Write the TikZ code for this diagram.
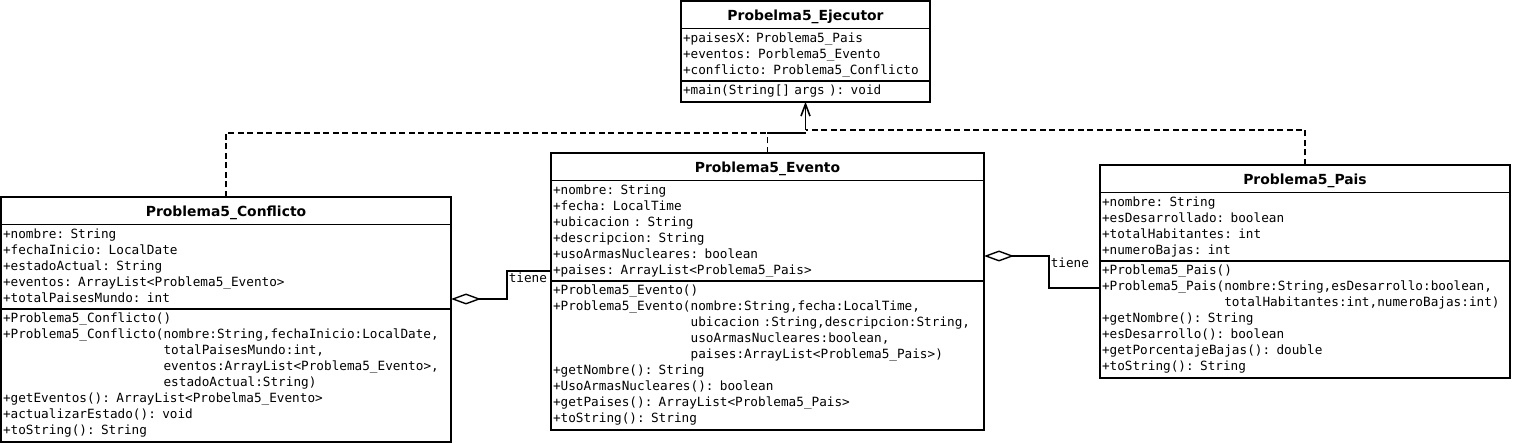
\documentclass[tikz,border=0pt]{standalone}
\usepackage{fontspec}
\setmonofont{DejaVu Sans Mono}
\newfontfamily\titlefont{DejaVu Sans}
\usetikzlibrary{shapes.multipart,arrows.meta}

\newcommand{\membfont}{\ttfamily\fontsize{12.7}{16}\selectfont}
\newcommand{\classtitle}[1]{\hbox to\hsize{\hss\titlefont\bfseries\fontsize{13.9}{16}\selectfont\rule[-6pt]{0pt}{23pt}#1\hss}}

\begin{document}
\begin{tikzpicture}[x=1pt,y=-1pt,
  umlclass/.style={draw,line width=1.6pt,rectangle split,rectangle split parts=3,
    inner xsep=2pt,inner ysep=1.5pt,outer sep=0pt,anchor=north west,font=\membfont,align=left},
  dep/.style={line width=1.6pt,dash pattern=on 6pt off 3.5pt},
  aggr/.style={line width=1.6pt,{Diamond[open,length=30pt,width=11pt,line width=1.4pt]}-},
  rel/.style={font=\membfont,inner sep=1pt}]
\useasboundingbox (0,0) rectangle (1513,443);

\node[umlclass,text width=245pt] (ejecutor) at (681,1) {\classtitle{Probelma5\_Ejecutor}
  \nodepart{second}\strut+paisesX: Problema5\_Pais\\
  +eventos: Porblema5\_Evento\\
  +conflicto: Problema5\_Conflicto\strut
  \nodepart{third}\strut+main(String[] args ): void\strut};

\node[umlclass,text width=446pt] (conflicto) at (1,197) {\classtitle{Problema5\_Conflicto}
  \nodepart{second}\strut+nombre: String\\
  +fechaInicio: LocalDate\\
  +estadoActual: String\\
  +eventos: ArrayList<Problema5\_Evento>\\
  +totalPaisesMundo: int\strut
  \nodepart{third}\strut+Problema5\_Conflicto()\\
  +Problema5\_Conflicto(nombre:String,fechaInicio:LocalDate,\\
  \phantom{+Problema5\_Conflicto(}totalPaisesMundo:int,\\
  \phantom{+Problema5\_Conflicto(}eventos:ArrayList<Problema5\_Evento>,\\
  \phantom{+Problema5\_Conflicto(}estadoActual:String)\\
  +getEventos(): ArrayList<Probelma5\_Evento>\\
  +actualizarEstado(): void\\
  +toString(): String\strut};

\node[umlclass,text width=429pt] (evento) at (551,153) {\classtitle{Problema5\_Evento}
  \nodepart{second}\strut+nombre: String\\
  +fecha: LocalTime\\
  +ubicacion : String\\
  +descripcion: String\\
  +usoArmasNucleares: boolean\\
  +paises: ArrayList<Problema5\_Pais>\strut
  \nodepart{third}\strut+Problema5\_Evento()\\
  +Problema5\_Evento(nombre:String,fecha:LocalTime,\\
  \phantom{+Problema5\_Evento(}ubicacion :String,descripcion:String,\\
  \phantom{+Problema5\_Evento(}usoArmasNucleares:boolean,\\
  \phantom{+Problema5\_Evento(}paises:ArrayList<Problema5\_Pais>)\\
  +getNombre(): String\\
  +UsoArmasNucleares(): boolean\\
  +getPaises(): ArrayList<Problema5\_Pais>\\
  +toString(): String\strut};

\node[umlclass,text width=406pt] (pais) at (1100,165) {\classtitle{Problema5\_Pais}
  \nodepart{second}\strut+nombre: String\\
  +esDesarrollado: boolean\\
  +totalHabitantes: int\\
  +numeroBajas: int\strut
  \nodepart{third}\strut+Problema5\_Pais()\\
  +Problema5\_Pais(nombre:String,esDesarrollo:boolean,\\
  \phantom{+Problema5\_Pais(}totalHabitantes:int,numeroBajas:int)\\
  +getNombre(): String\\
  +esDesarrollo(): boolean\\
  +getPorcentajeBajas(): double\\
  +toString(): String\strut};

% dependencias hacia el ejecutor
\coordinate (junc) at ([yshift=-31pt]ejecutor.south);
\draw[dep] (conflicto.north) |- (junc);
\draw[dep] (evento.north) |- (junc);
\draw[dep] (pais.north) |- ([yshift=3pt]junc);
\draw[line width=1.6pt,-{Straight Barb[length=12pt,width=9pt]}] ([yshift=3pt]junc) -- (ejecutor.south);

% agregaciones
\draw[aggr] ([yshift=-102pt]conflicto.north east) -- ++(56,0) |- ([yshift=-118pt]evento.north west)
  node[pos=0.5,rel,anchor=north west] {tiene};
\draw[aggr] ([yshift=-103pt]evento.north east) -- ++(65,0) node[rel,anchor=north west] {tiene}
  |- ([yshift=-123pt]pais.north west);
\end{tikzpicture}
\end{document}
